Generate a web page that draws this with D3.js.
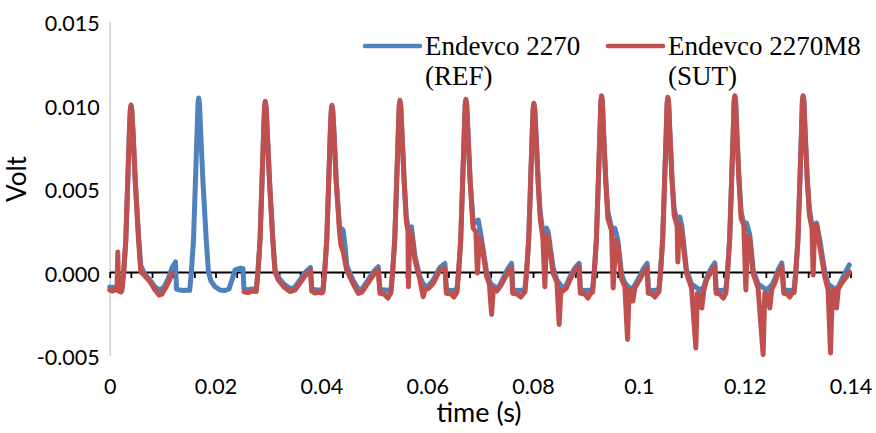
<!DOCTYPE html>
<html>
<head>
<meta charset="utf-8">
<script src="https://cdn.jsdelivr.net/npm/d3@7/dist/d3.min.js"></script>
<style>
  html, body { margin: 0; padding: 0; background: #fff; }
  svg { display: block; }
</style>
</head>
<body>
<svg id="chart" width="876" height="433"></svg>
<script>
// Axis ranges and tick labels
const xDomain = [0, 0.14];
const yDomain = [-0.005, 0.015];
const xTickValues = [0, 0.02, 0.04, 0.06, 0.08, 0.1, 0.12, 0.14];
const xTickLabels = ["0", "0.02", "0.04", "0.06", "0.08", "0.1", "0.12", "0.14"];
const xMinorStep = 0.004;
const yTickValues = [-0.005, 0, 0.005, 0.010, 0.015];
const yTickLabels = ["-0.005", "0.000", "0.005", "0.010", "0.015"];

// Series names
const seriesNames = [["Endevco 2270", "(REF)"], ["Endevco 2270M8", "(SUT)"]];

// Reference accelerometer output: [time (s), voltage (V)]
const refSignal = [
[0,-0.00090],[0.000623,-0.00093],[0.001379,-0.00090],[0.002135,-0.00096],[0.002324,-0.00092],
[0.002645,0],[0.003042,0.0019],[0.003419,0.0055],[0.003722,0.0084],[0.003892,0.00965],[0.004024,0.00995],[0.004175,0.00965],[0.004402,0.0084],[0.004818,0.0055],[0.005460,0.0021],[0.005876,0.0004],
[0.006480,-0.00006],[0.007614,-0.00048],[0.008559,-0.00090],[0.009503,-0.00108],[0.010259,-0.00090],[0.011015,-0.00042],[0.011770,0.00024],[0.012432,0.00060],
[0.012621,-0.00102],[0.013282,-0.00108],[0.014038,-0.00111],[0.014793,-0.00108],[0.015115,-0.00110],
[0.015436,0],[0.015833,0.0019],[0.016210,0.0055],[0.016513,0.0084],[0.016683,0.01012],[0.016815,0.01042],[0.016966,0.01012],[0.017193,0.0084],[0.017609,0.0055],[0.018251,0.0019],[0.018667,0],
[0.019139,-0.00054],[0.019894,-0.00088],[0.020839,-0.00108],[0.021784,-0.00111],[0.022540,-0.00102],[0.023106,-0.00048],[0.023673,0.00012],[0.024618,0.00022],[0.025185,0.00021],
[0.025373,-0.00102],[0.026129,-0.00108],[0.026884,-0.00102],[0.027697,-0.00100],
[0.028018,0],[0.028415,0.0019],[0.028792,0.0055],[0.029095,0.0084],[0.029265,0.00985],[0.029397,0.01015],[0.029548,0.00985],[0.029775,0.0084],[0.030191,0.0055],[0.030833,0.0019],[0.031249,0.0001],
[0.031854,-0.00030],[0.032931,-0.00072],[0.034064,-0.00099],[0.035009,-0.00090],[0.035953,-0.00048],[0.036898,-0.00003],[0.037937,0.00027],
[0.038183,-0.00102],[0.038977,-0.00108],[0.040110,-0.00108],[0.040300,-0.00105],
[0.040621,0],[0.041018,0.0019],[0.041395,0.0055],[0.041698,0.0084],[0.041868,0.00963],[0.042000,0.00993],[0.042151,0.00963],[0.042378,0.0084],[0.042794,0.0055],[0.043436,0.0027],
[0.044135,0.00249],[0.044456,0.00162],[0.044834,0.00036],[0.045966,-0.00048],[0.046968,-0.00102],[0.047667,-0.00102],[0.049178,-0.00030],[0.050123,0.00012],[0.050747,0.00032],
[0.051068,-0.00105],[0.052013,-0.00108],[0.052958,-0.00111],[0.053146,-0.00108],
[0.053467,0],[0.053864,0.0019],[0.054241,0.0055],[0.054544,0.0084],[0.054714,0.0099],[0.054846,0.0102],[0.054997,0.0099],[0.055224,0.0084],[0.055640,0.0055],[0.056036,0.0034],
[0.056358,0.00263],[0.057019,0.00271],[0.057680,0.00096],[0.058625,-0.00030],[0.059569,-0.00090],[0.060325,-0.00078],[0.061138,-0.00048],[0.062403,0.00027],[0.063348,0.00051],
[0.063632,-0.00108],[0.064671,-0.00111],[0.065616,-0.00108],
[0.065937,0],[0.066334,0.0019],[0.066711,0.0055],[0.067014,0.0084],[0.067184,0.00998],[0.067316,0.01028],[0.067467,0.00998],[0.067694,0.0084],[0.068110,0.0055],[0.068506,0.0038],
[0.068695,0.00287],[0.069640,0.00311],[0.070150,0.00222],[0.071227,0],[0.072029,-0.00072],[0.073117,-0.00096],[0.073740,-0.00078],[0.074364,-0.00036],[0.075252,0.00021],[0.075951,0.00052],
[0.076159,-0.00108],[0.077142,-0.00111],[0.078275,-0.00108],[0.078463,-0.00108],
[0.078784,0],[0.079181,0.0019],[0.079558,0.0055],[0.079861,0.0084],[0.080031,0.00975],[0.080163,0.01005],[0.080314,0.00975],[0.080541,0.0084],[0.080957,0.0055],[0.081353,0.0036],
[0.081863,0.00240],[0.082562,0.00262],[0.082864,0.00240],[0.083809,0.00024],[0.084508,-0.00048],[0.085642,-0.00096],[0.086303,-0.00078],[0.086964,-0.00030],[0.087909,0.00024],[0.088721,0.00052],
[0.088948,-0.00108],[0.089987,-0.00111],[0.090932,-0.00108],[0.091253,-0.00108],
[0.091574,0],[0.091971,0.0019],[0.092348,0.0055],[0.092651,0.0084],[0.092821,0.0102],[0.092953,0.0105],[0.093104,0.0102],[0.093331,0.0084],[0.093747,0.0055],[0.094143,0.0036],
[0.094843,0.00263],[0.095466,0.00262],[0.096033,0.00192],[0.096732,-0.00012],[0.097356,-0.00066],[0.098622,-0.00108],[0.099245,-0.00078],[0.100001,-0.00036],[0.100813,0.00018],[0.101569,0.00052],
[0.101796,-0.00108],[0.102646,-0.00111],[0.103591,-0.00108],[0.103780,-0.00108],
[0.104101,0],[0.104498,0.0019],[0.104875,0.0055],[0.105178,0.0084],[0.105348,0.0101],[0.105480,0.0104],[0.105631,0.0101],[0.105858,0.0084],[0.106274,0.0055],[0.106670,0.0038],
[0.107237,0.00299],[0.107747,0.00329],[0.108125,0.00275],[0.109013,0.00012],[0.109958,-0.00072],[0.111526,-0.00108],[0.112282,-0.00090],[0.112792,-0.00036],[0.113604,0.00018],[0.114360,0.00054],
[0.114605,-0.00108],[0.115493,-0.00111],[0.116438,-0.00108],
[0.116759,0],[0.117156,0.0019],[0.117533,0.0055],[0.117836,0.0084],[0.118006,0.0102],[0.118138,0.0105],[0.118289,0.0102],[0.118516,0.0084],[0.118932,0.0055],[0.119328,0.0036],
[0.119838,0.00287],[0.120348,0.00293],[0.120972,0.00222],[0.121596,0.00012],[0.122540,-0.00072],[0.124184,-0.00108],[0.125129,-0.00078],[0.125696,-0.00042],[0.126319,0.00012],[0.127018,0.00054],
[0.127396,-0.00108],[0.128530,-0.00111],[0.129342,-0.00108],
[0.129663,0],[0.130060,0.0019],[0.130437,0.0055],[0.130740,0.0084],[0.130910,0.0102],[0.131042,0.0105],[0.131193,0.0102],[0.131420,0.0084],[0.131836,0.0055],[0.132232,0.0038],
[0.132724,0.00275],[0.133576,0.00293],[0.134199,0.00192],[0.135144,0],[0.135767,-0.00072],[0.136939,-0.00102],[0.137695,-0.00090],[0.138299,-0.00048],[0.139244,0.00012],[0.139773,0.00042]
];

// Sensor under test output: [time (s), voltage (V)]; null marks the dropout
const sutSignal = [
[0,-0.00108],[0.000435,-0.00114],[0.001001,-0.00108],[0.001379,-0.00108],[0.001530,0.00120],[0.001681,-0.00114],[0.002135,-0.00120],[0.002324,-0.00110],
[0.002645,0],[0.003042,0.0019],[0.003419,0.0055],[0.003722,0.0084],[0.003892,0.0097],[0.004024,0.0100],[0.004175,0.0097],[0.004402,0.0084],[0.004818,0.0055],[0.005460,0.0019],[0.005876,0],
[0.006480,-0.00018],[0.007614,-0.00058],[0.008559,-0.00108],[0.009314,-0.00138],[0.009881,-0.00132],[0.010637,-0.00090],[0.011393,-0.00042],[0.011770,-0.00006],
[0.018500,null],
[0.025373,-0.00118],[0.026129,-0.00123],[0.026884,-0.00114],[0.027697,-0.00117],
[0.028018,0],[0.028415,0.0019],[0.028792,0.0055],[0.029095,0.0084],[0.029265,0.00992],[0.029397,0.01022],[0.029548,0.00992],[0.029775,0.0084],[0.030191,0.0055],[0.030833,0.0019],[0.031249,0],
[0.031854,-0.00048],[0.032931,-0.00090],[0.034064,-0.00117],[0.035009,-0.00108],[0.035953,-0.00066],[0.036898,-0.00024],[0.037937,0.00009],
[0.038183,-0.00114],[0.038788,-0.00126],[0.039544,-0.00120],[0.040110,-0.00126],[0.040300,-0.00120],
[0.040621,0],[0.041018,0.0019],[0.041395,0.0055],[0.041698,0.0084],[0.041868,0.00968],[0.042000,0.00998],[0.042151,0.00968],[0.042378,0.0084],[0.042794,0.0055],[0.043436,0.0024],
[0.043700,0.0016],[0.044135,0.0012],[0.044776,0.00012],[0.045966,-0.00068],[0.046968,-0.00128],[0.047667,-0.00120],[0.049178,-0.00048],[0.050123,-0.00006],[0.050747,0.00012],
[0.051068,-0.00128],[0.051824,-0.00132],[0.052580,-0.00156],[0.052958,-0.00132],[0.053146,-0.00125],
[0.053467,0],[0.053864,0.0019],[0.054241,0.0055],[0.054544,0.0084],[0.054714,0.00998],[0.054846,0.01028],[0.054997,0.00998],[0.055224,0.0084],[0.055640,0.0055],[0.056036,0.0031],
[0.056358,0.0025],[0.056452,-0.00088],[0.056736,0.00234],[0.057019,0.00240],[0.057680,0.00072],[0.058625,-0.00048],[0.059248,-0.00148],[0.059569,-0.00108],[0.060325,-0.00096],[0.061138,-0.00068],[0.062403,0.00012],[0.063348,0.00022],
[0.063632,-0.00128],[0.064482,-0.00132],[0.065049,-0.00150],[0.065616,-0.00122],
[0.065937,0],[0.066334,0.0019],[0.066711,0.0055],[0.067014,0.0084],[0.067184,0.01004],[0.067316,0.01034],[0.067467,0.01004],[0.067694,0.0084],[0.068110,0.0055],[0.068506,0.0034],
[0.068695,0.00263],[0.069205,0.00240],[0.069489,-0.00006],[0.069867,0.00204],[0.070339,0.00162],[0.071227,-0.00028],[0.071757,-0.00072],[0.072172,-0.00254],[0.072512,-0.00096],[0.073117,-0.00114],[0.073740,-0.00090],[0.074364,-0.00054],[0.075252,-0.00006],[0.075951,0.00027],
[0.076159,-0.00128],[0.076953,-0.00132],[0.077708,-0.00150],[0.078275,-0.00126],[0.078463,-0.00120],
[0.078784,0],[0.079181,0.0019],[0.079558,0.0055],[0.079861,0.0084],[0.080031,0.0098],[0.080163,0.0101],[0.080314,0.0098],[0.080541,0.0084],[0.080957,0.0055],[0.081353,0.0032],
[0.081863,0.00204],[0.082241,-0.00088],[0.082562,0.00222],[0.082864,0.00211],[0.083809,-0.00008],[0.084508,-0.00060],[0.084942,-0.00314],[0.085264,-0.00108],[0.085642,-0.00114],[0.086303,-0.00096],[0.086964,-0.00048],[0.087909,0.00012],[0.088721,0.00033],
[0.088948,-0.00128],[0.089798,-0.00132],[0.090365,-0.00156],[0.090932,-0.00126],[0.091253,-0.00120],
[0.091574,0],[0.091971,0.0019],[0.092348,0.0055],[0.092651,0.0084],[0.092821,0.01026],[0.092953,0.01056],[0.093104,0.01026],[0.093331,0.0084],[0.093747,0.0055],[0.094143,0.0032],
[0.094843,0.00249],[0.095145,-0.00096],[0.095655,0.00192],[0.096033,0.00162],[0.096732,-0.00042],[0.097356,-0.00088],[0.097866,-0.00404],[0.098168,-0.00108],[0.098622,-0.00138],[0.098867,-0.00174],[0.099245,-0.00096],[0.100001,-0.00054],[0.100813,-0.00008],[0.101569,0.00030],
[0.101796,-0.00128],[0.102457,-0.00132],[0.103024,-0.00150],[0.103591,-0.00126],[0.103780,-0.00120],
[0.104101,0],[0.104498,0.0019],[0.104875,0.0055],[0.105178,0.0084],[0.105348,0.01016],[0.105480,0.01046],[0.105631,0.01016],[0.105858,0.0084],[0.106274,0.0055],[0.106670,0.0034],
[0.107237,0.00275],[0.107370,0.00060],[0.107653,0.00287],[0.108125,0.00234],[0.109013,-0.00008],[0.109958,-0.00096],[0.110770,-0.00455],[0.111054,-0.00128],[0.111526,-0.00138],[0.111904,-0.00216],[0.112282,-0.00108],[0.112792,-0.00048],[0.113604,0],[0.114360,0.00030],
[0.114605,-0.00128],[0.115304,-0.00132],[0.115966,-0.00156],[0.116438,-0.00126],
[0.116759,0],[0.117156,0.0019],[0.117533,0.0055],[0.117836,0.0084],[0.118006,0.01026],[0.118138,0.01056],[0.118289,0.01026],[0.118516,0.0084],[0.118932,0.0055],[0.119328,0.0032],
[0.119838,0.00281],[0.120216,-0.00108],[0.120594,0.00216],[0.120972,0.00192],[0.121596,-0.00008],[0.122540,-0.00096],[0.123485,-0.00494],[0.123806,-0.00126],[0.124184,-0.00128],[0.124751,-0.00216],[0.125129,-0.00102],[0.125696,-0.00066],[0.126319,-0.00008],[0.127018,0.00033],
[0.127396,-0.00128],[0.127963,-0.00132],[0.128530,-0.00150],[0.128983,-0.00126],[0.129342,-0.00123],
[0.129663,0],[0.130060,0.0019],[0.130437,0.0055],[0.130740,0.0084],[0.130910,0.01026],[0.131042,0.01056],[0.131193,0.01026],[0.131420,0.0084],[0.131836,0.0055],[0.132232,0.0034],
[0.132724,0.00263],[0.132933,-0.00018],[0.133254,0.00275],[0.133632,0.00281],[0.134199,0.00152],[0.135144,-0.00028],[0.135767,-0.00108],[0.136221,-0.00485],[0.136561,-0.00120],[0.136939,-0.00108],[0.137355,-0.00216],[0.137695,-0.00102],[0.138299,-0.00068],[0.139244,-0.00028],[0.139773,0.00002]
];

const colors = ["#4f81bd", "#c0504d"];

const svg = d3.select("#chart");
const x = d3.scaleLinear().domain(xDomain).range([109.7, 850.5]);
const y = d3.scaleLinear().domain(yDomain).range([355.5, 21.5]);

const tickFont = "Lato, 'Open Sans', sans-serif";

// Vertical axis: light grey line, labels only
const yAxis = d3.axisLeft(y).tickValues(yTickValues)
  .tickFormat((d, i) => yTickLabels[i]).tickSize(0).tickPadding(10);
const gy = svg.append("g").attr("transform", `translate(${x(0)},0)`).call(yAxis);
gy.select(".domain").attr("stroke", "#d0d0d0").attr("stroke-width", 1.6);
gy.selectAll("text").attr("font-family", tickFont).attr("font-size", 21.5)
  .attr("fill", "#000").attr("dy", "0.42em");

// Horizontal tick labels along the bottom
const xAxis = d3.axisBottom(x).tickValues(xTickValues)
  .tickFormat((d, i) => xTickLabels[i]).tickSize(0).tickPadding(0);
const gx = svg.append("g").attr("transform", `translate(0,${y(yDomain[0]) + 23})`).call(xAxis);
gx.select(".domain").remove();
gx.selectAll("text").attr("font-family", tickFont).attr("font-size", 21.5).attr("fill", "#000");

// Zero line with minor ticks
const minorTicks = d3.range(0, 35 + 1).map(i => +(i * xMinorStep).toFixed(3));
const zeroAxis = d3.axisBottom(x).tickValues(minorTicks).tickFormat("").tickSize(6).tickSizeOuter(0);
const gz = svg.append("g").attr("transform", `translate(0,${y(0)})`).call(zeroAxis);
gz.select(".domain").attr("stroke", "#000").attr("stroke-width", 2);
gz.selectAll(".tick line").attr("stroke", "#000").attr("stroke-width", 1.8);

// Axis titles
svg.append("text").attr("x", 479).attr("y", 422).attr("text-anchor", "middle")
  .attr("font-family", tickFont).attr("font-size", 27).text("time (s)");
svg.append("text").attr("transform", "translate(26,179) rotate(-90)").attr("text-anchor", "middle")
  .attr("font-family", tickFont).attr("font-size", 26).text("Volt");

// Signal traces
const line = d3.line()
  .defined(d => d[1] !== null)
  .x(d => x(d[0]))
  .y(d => y(d[1]));

[refSignal, sutSignal].forEach((data, i) => {
  svg.append("path").datum(data)
    .attr("fill", "none")
    .attr("stroke", colors[i])
    .attr("stroke-width", 5)
    .attr("stroke-linejoin", "round")
    .attr("stroke-linecap", "round")
    .attr("d", line);
});

// Legend
const legendX = [365, 608];
seriesNames.forEach((names, i) => {
  const g = svg.append("g");
  g.append("line").attr("x1", legendX[i]).attr("x2", legendX[i] + 55)
    .attr("y1", 46).attr("y2", 46)
    .attr("stroke", colors[i]).attr("stroke-width", 4.5).attr("stroke-linecap", "round");
  const t = g.append("text").attr("font-family", "'Liberation Serif', 'Times New Roman', serif")
    .attr("font-size", 27).attr("fill", "#000");
  t.append("tspan").attr("x", legendX[i] + 60).attr("y", 55).text(names[0]);
  t.append("tspan").attr("x", legendX[i] + 60).attr("y", 85).text(names[1]);
});
</script>
</body>
</html>
